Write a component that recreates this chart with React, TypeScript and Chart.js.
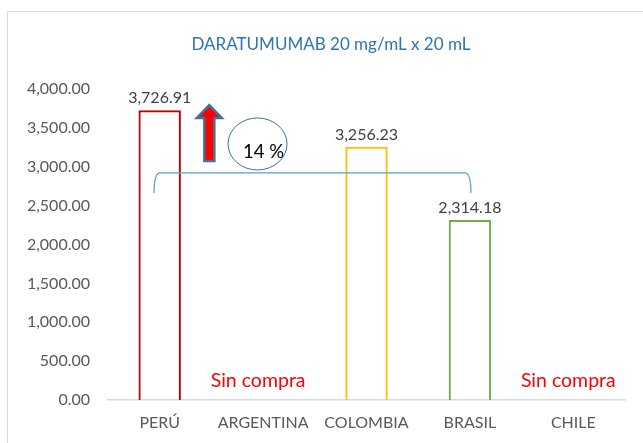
import React, { useEffect, useRef } from "react";
import { Chart, registerables } from "chart.js";

Chart.register(...registerables);

const titleText = "DARATUMUMAB 20 mg/mL x 20 mL";
const categories = ["PERÚ", "ARGENTINA", "COLOMBIA", "BRASIL", "CHILE"];
const prices: (number | null)[] = [3726.91, null, 3256.23, 2314.18, null];
const barColors = ["#C00000", "#A5A5A5", "#FFC000", "#70AD47", "#5B9BD5"];
const noPurchaseIdx = [1, 4];
const noPurchaseLabel = "Sin compra";
const diffLabel = "14 %";
const yMin = 0;
const yMax = 4000;
const yStep = 500;

const FONT = "Lato, 'Open Sans', sans-serif";
const fmt = (v: number) =>
  v.toLocaleString("en-US", { minimumFractionDigits: 2, maximumFractionDigits: 2 });

const decorPlugin = {
  id: "decor",
  beforeDraw(chart: any) {
    const ctx = chart.ctx;
    ctx.save();
    ctx.fillStyle = "#ffffff";
    ctx.fillRect(0, 0, chart.width, chart.height);
    ctx.strokeStyle = "#D9D9D9";
    ctx.lineWidth = 1;
    ctx.beginPath();
    ctx.moveTo(7.5, chart.height);
    ctx.lineTo(7.5, 11.5);
    ctx.lineTo(chart.width, 11.5);
    ctx.stroke();
    ctx.fillStyle = "#2E75B6";
    ctx.font = `17px ${FONT}`;
    ctx.textAlign = "center";
    ctx.textBaseline = "middle";
    ctx.fillText(titleText, 331, 45);
    ctx.restore();
  },
  afterDatasetsDraw(chart: any) {
    const ctx = chart.ctx;
    const xs = chart.scales.x;
    const ys = chart.scales.y;
    const meta = chart.getDatasetMeta(0);
    ctx.save();
    // value labels
    ctx.font = `16px ${FONT}`;
    ctx.fillStyle = "#404040";
    ctx.textAlign = "center";
    ctx.textBaseline = "bottom";
    prices.forEach((v, i) => {
      if (v == null) return;
      const el = meta.data[i];
      ctx.fillText(fmt(v), el.x, el.y - 4);
    });
    // "Sin compra"
    ctx.font = `19.5px ${FONT}`;
    ctx.fillStyle = "#FF0000";
    ctx.textBaseline = "middle";
    noPurchaseIdx.forEach((i) => {
      ctx.fillText(noPurchaseLabel, xs.getPixelForValue(i) - 5, ys.getPixelForValue(250));
    });
    // bracket
    const bx1 = xs.getPixelForValue(-0.055);
    const bx2 = xs.getPixelForValue(3.01);
    const byTop = ys.getPixelForValue(2920);
    const byEnd = ys.getPixelForValue(2662);
    ctx.strokeStyle = "#5B9BD5";
    ctx.lineWidth = 1.25;
    ctx.beginPath();
    ctx.moveTo(bx1, byEnd);
    ctx.quadraticCurveTo(bx1, byTop, bx1 + 6, byTop);
    ctx.lineTo(bx2 - 6, byTop);
    ctx.quadraticCurveTo(bx2, byTop, bx2, byEnd);
    ctx.stroke();
    // arrow
    const ax = xs.getPixelForValue(0.48);
    const aTop = ys.getPixelForValue(3794);
    const aBase = ys.getPixelForValue(3627);
    const aBot = ys.getPixelForValue(3074);
    const hw = 12.5;
    const sw = 5;
    ctx.beginPath();
    ctx.moveTo(ax, aTop);
    ctx.lineTo(ax + hw, aBase);
    ctx.lineTo(ax + sw, aBase);
    ctx.lineTo(ax + sw, aBot);
    ctx.lineTo(ax - sw, aBot);
    ctx.lineTo(ax - sw, aBase);
    ctx.lineTo(ax - hw, aBase);
    ctx.closePath();
    ctx.fillStyle = "#FF0000";
    ctx.fill();
    ctx.strokeStyle = "#41719C";
    ctx.lineWidth = 2.5;
    ctx.lineJoin = "miter";
    ctx.stroke();
    // ellipse + percent
    const ex = xs.getPixelForValue(0.946);
    const ey = ys.getPixelForValue(3293);
    ctx.beginPath();
    ctx.ellipse(ex, ey, 29.5, 26, 0, 0, Math.PI * 2);
    ctx.strokeStyle = "#41719C";
    ctx.lineWidth = 1;
    ctx.stroke();
    ctx.font = `18.5px ${FONT}`;
    ctx.fillStyle = "#000000";
    ctx.textAlign = "center";
    ctx.textBaseline = "middle";
    ctx.fillText(diffLabel, ex + 6, ey + 8);
    ctx.restore();
  },
};

export default function App() {
  const ref = useRef<HTMLCanvasElement | null>(null);
  useEffect(() => {
    if (!ref.current) return;
    const chart = new Chart(ref.current, {
      type: "bar",
      data: {
        labels: categories,
        datasets: [
          {
            data: prices as any,
            backgroundColor: "rgba(255,255,255,0)",
            borderColor: barColors,
            borderWidth: 2,
            borderSkipped: "bottom",
            categoryPercentage: 1,
            barPercentage: 0.41,
          },
        ],
      },
      options: {
        responsive: false,
        animation: false,
        layout: { padding: { top: 89, right: 18, left: 0, bottom: 0 } },
        plugins: { legend: { display: false }, title: { display: false }, tooltip: { enabled: false } },
        scales: {
          x: {
            grid: { display: false, drawTicks: false },
            border: { display: true, color: "#D9D9D9", width: 1.5 },
            ticks: { color: "#595959", font: { family: FONT, size: 16 }, padding: 13, maxRotation: 0 },
            afterFit: (s: any) => {
              s.height = 43;
            },
          },
          y: {
            min: yMin,
            max: yMax,
            grid: { display: false, drawTicks: false },
            border: { display: false },
            ticks: {
              stepSize: yStep,
              color: "#595959",
              font: { family: FONT, size: 16 },
              padding: 18,
              callback: (v: any) => fmt(Number(v)),
            },
            afterFit: (s: any) => {
              s.width = 108;
            },
          },
        },
      },
      plugins: [decorPlugin],
    });
    return () => chart.destroy();
  }, []);
  return (
    <div style={{ position: "fixed", left: 0, top: 0, width: 643, height: 443, background: "#fff" }}>
      <canvas ref={ref} width={643} height={443} />
    </div>
  );
}
